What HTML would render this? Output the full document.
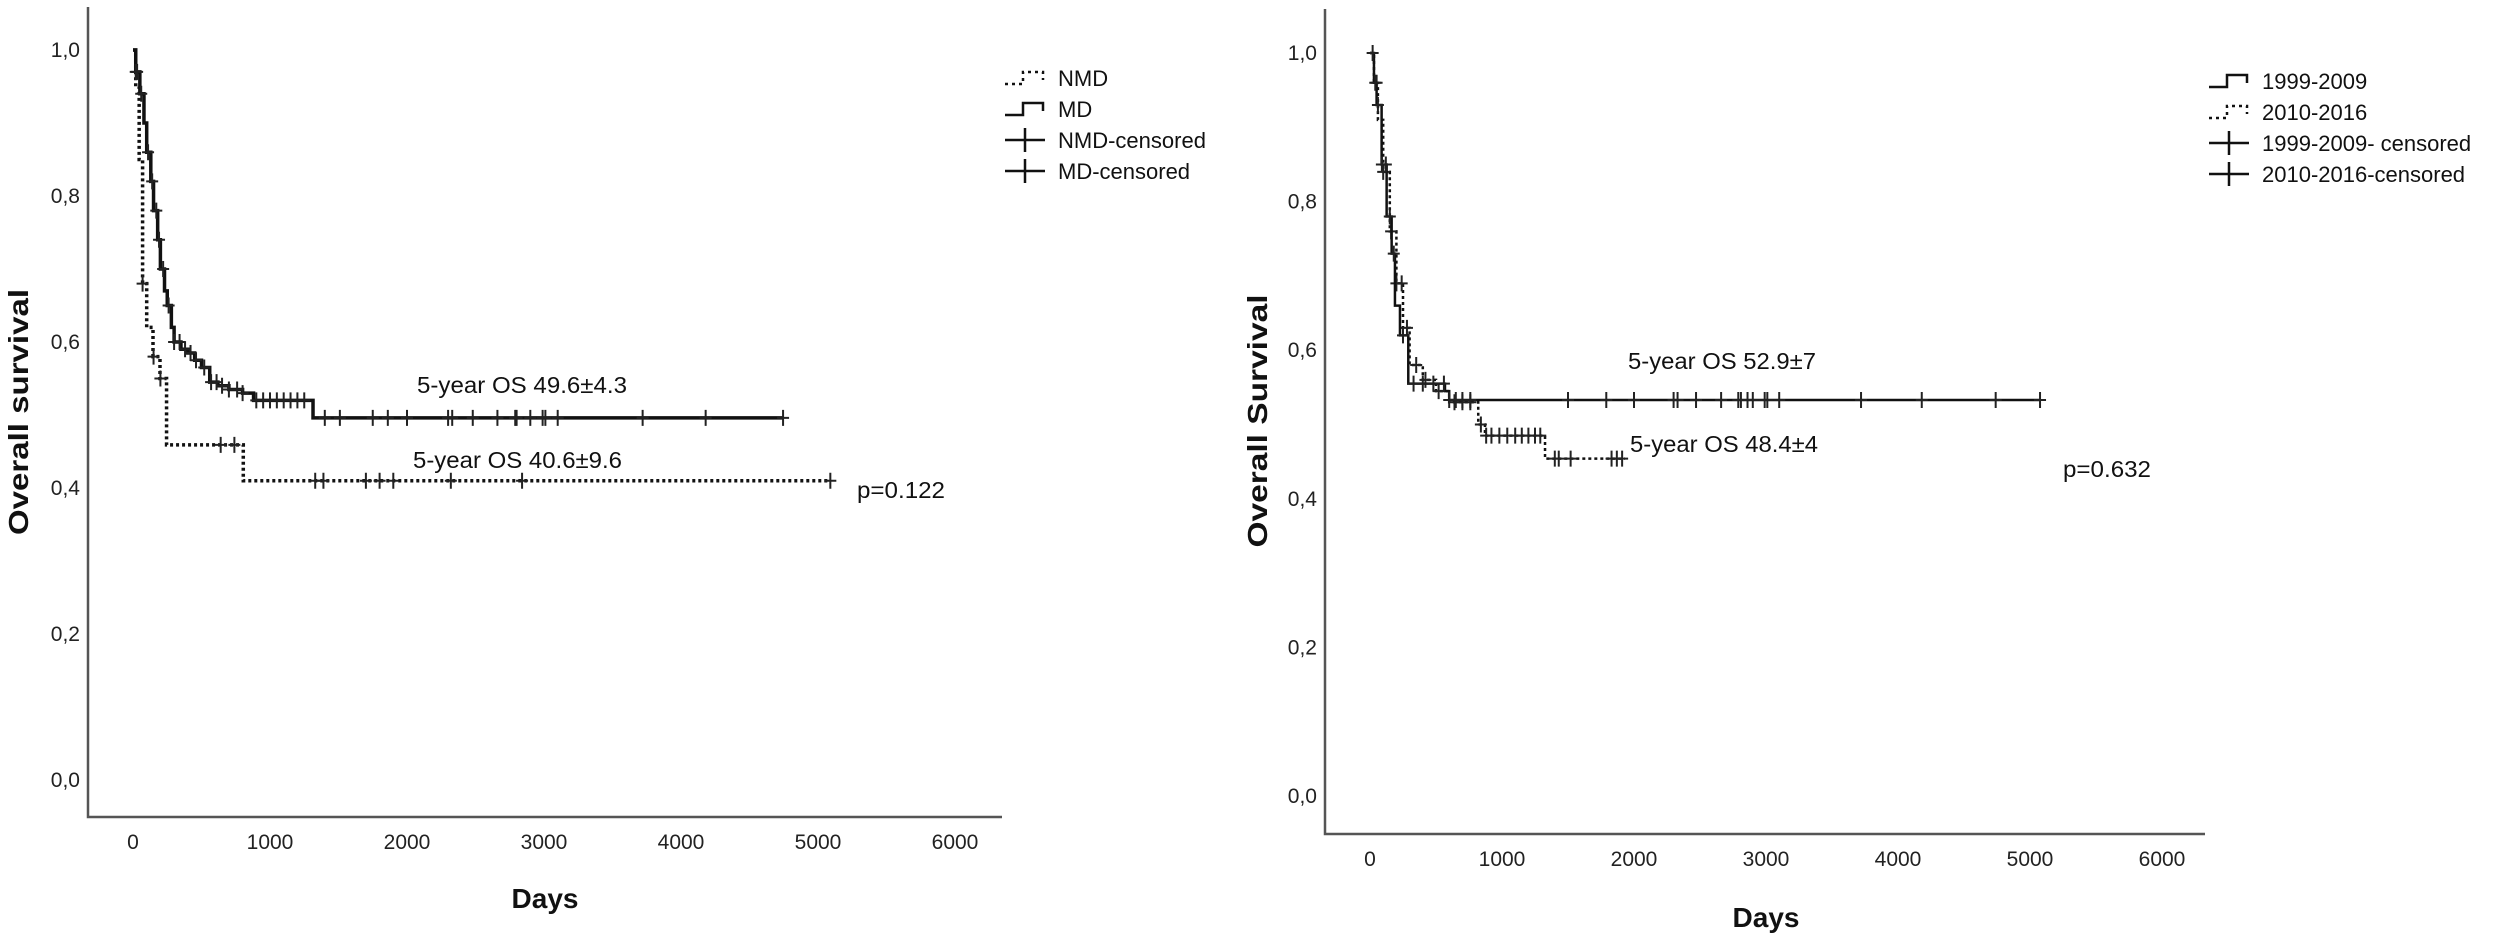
<!DOCTYPE html>
<html><head><meta charset="utf-8"><style>
html,body{margin:0;padding:0;background:#fff;}
svg{display:block;font-family:"Liberation Sans",sans-serif;}
</style></head><body>
<svg id="fig" width="2508" height="938" viewBox="0 0 2508 938" xmlns="http://www.w3.org/2000/svg"></svg>
<script>
// ---------- DATA ----------
const xTicks = [0,1000,2000,3000,4000,5000,6000];
const yTicks = [0,0.2,0.4,0.6,0.8,1.0];
const yTickLabels = ["0,0","0,2","0,4","0,6","0,8","1,0"];
// Left chart: MD (solid) step points [day, survival]
const mdTimes = [0,20,50,80,100,130,150,180,200,230,250,280,300,350,400,450,500,560,620,700,800,880,1000,1314,4750];
const mdSurv  = [1.0,0.97,0.94,0.90,0.86,0.82,0.78,0.74,0.70,0.67,0.65,0.62,0.60,0.59,0.585,0.575,0.565,0.545,0.54,0.535,0.53,0.52,0.52,0.496,0.496];
const mdCensor = [20,30,60,110,140,170,190,220,260,300,340,380,420,460,520,570,610,650,700,760,800,900,950,1000,1050,1100,1150,1200,1250,1400,1510,1750,1860,2000,2300,2330,2480,2660,2790,2800,2900,2990,3010,3100,3720,4180,4745];
// Left chart: NMD (dotted)
const nmdTimes = [0,20,45,70,100,146,197,245,805,5090];
const nmdSurv  = [1.0,0.95,0.85,0.68,0.62,0.58,0.55,0.459,0.41,0.41];
const nmdCensor = [70,150,200,640,740,1330,1390,1700,1800,1900,2320,2840,5090];
// Right chart: 1999-2009 (solid)
const aTimes = [0,30,50,88,126,164,189,227,290,568,600,5076];
const aSurv  = [1.0,0.96,0.93,0.85,0.78,0.73,0.66,0.62,0.555,0.545,0.533,0.533];
const aCensor = [20,40,60,90,120,150,180,250,330,400,480,560,600,650,700,760,1500,1790,2000,2300,2330,2470,2660,2790,2810,2860,2900,2990,3010,3100,3720,4180,4740,5076];
// Right chart: 2010-2016 (dotted)
const bTimes = [0,30,60,100,150,200,250,300,400,500,600,820,871,1326,1932];
const bSurv  = [1.0,0.96,0.91,0.84,0.76,0.69,0.63,0.58,0.56,0.545,0.53,0.50,0.485,0.454,0.454];
const bCensor = [50,100,160,200,240,280,350,420,520,640,700,760,840,880,920,980,1040,1100,1150,1200,1250,1290,1400,1430,1520,1830,1870,1910];

// ---------- HELPERS ----------
const NS="http://www.w3.org/2000/svg";
const svg=document.getElementById('fig');
function mk(tag,attrs,parent){const e=document.createElementNS(NS,tag);for(const k in attrs)e.setAttribute(k,attrs[k]);(parent||svg).appendChild(e);return e;}
function survAt(times,surv,t){let s=surv[0];for(let i=0;i<times.length;i++){if(times[i]<=t)s=surv[i];}return s;}

function drawChart(cfg){
  const g=mk('g',{});
  
  
  const X=d=>cfg.x0+cfg.kx*d, Y=s=>cfg.y0-cfg.ky*s;
  // axes
  const ax=mk('path',{d:`M${cfg.axX},${cfg.axTop} V${cfg.axY} H${cfg.axRight}`,fill:'none',stroke:'#555','stroke-width':2.5},g);
  
  
  xTicks.forEach(v=>{
    const t=mk('text',{x:X(v),y:cfg.xLabY,'font-size':21,'text-anchor':'middle',fill:'#222'},g);
    t.textContent=String(v);
    
    
  });
  yTicks.forEach((v,i)=>{
    const t=mk('text',{x:cfg.yLabX,y:Y(v)+7,'font-size':21,'text-anchor':'end',fill:'#222'},g);
    t.textContent=yTickLabels[i];
    
    
  });
  const xt=mk('text',{x:cfg.daysX,y:cfg.daysY,'font-size':28,'font-weight':'bold','text-anchor':'middle',fill:'#111'},g);
  xt.textContent='Days';
  
  
  const yt=mk('text',{x:0,y:0,'font-size':28,'font-weight':'bold','text-anchor':'middle',fill:'#111',transform:`translate(${cfg.ytX},${cfg.ytY}) rotate(-90)`,textLength:cfg.ytLen,lengthAdjust:'spacingAndGlyphs'},g);
  yt.textContent=cfg.yTitle;
  
  
  // series
  cfg.series.forEach(s=>{
    let d=`M${X(s.times[0])},${Y(s.surv[0])}`;
    for(let i=1;i<s.times.length;i++){d+=` H${X(s.times[i])} V${Y(s.surv[i])}`;}
    const p=mk('path',{d:d,fill:'none',stroke:'#111','stroke-width':s.w,'stroke-dasharray':s.dash||'none'},g);
    
    
    s.censor.forEach(t=>{
      const cx=X(t), cy=Y(survAt(s.times,s.surv,t));
      const c=mk('path',{d:`M${cx-6},${cy} H${cx+6} M${cx},${cy-8} V${cy+8}`,stroke:'#222','stroke-width':2},g);
      
      
    });
  });
  // annotations
  cfg.notes.forEach(n=>{
    const t=mk('text',{x:n.x,y:n.y,'font-size':23,fill:'#111',textLength:n.len,lengthAdjust:'spacingAndGlyphs'},g);
    t.textContent=n.text;
    
    
  });
  // legend
  cfg.legend.forEach((l,i)=>{
    const y=cfg.legY+i*31, lx=cfg.legX;
    const lg=mk('g',{},g);
    
    
    if(l.kind==='step'||l.kind==='dstep'){
      mk('path',{d:`M${lx},${y+6} H${lx+18} V${y-6} H${lx+38} V${y+2}`,fill:'none',stroke:'#111','stroke-width':2.5,'stroke-dasharray':l.kind==='dstep'?'3,4':'none'},lg);
    } else {
      mk('path',{d:`M${lx},${y} H${lx+40} M${lx+20},${y-12} V${y+12}`,stroke:'#111','stroke-width':2.5},lg);
    }
    const t=mk('text',{x:cfg.legTX,y:y+8,'font-size':22,fill:'#111'},lg);
    t.textContent=l.text;
  });
}

drawChart({name:'chart-left',x0:133,kx:0.137,y0:780,ky:730,axX:88,axTop:7,axY:817,axRight:1002,
  xLabY:849,yLabX:80,daysX:545,daysY:908,ytX:28,ytY:412,ytLen:246,yTitle:'Overall survival',
  series:[{name:'nmd',times:nmdTimes,surv:nmdSurv,censor:nmdCensor,w:3.5,dash:'3,3'},
          {name:'md',times:mdTimes,surv:mdSurv,censor:mdCensor,w:3.5}],
  notes:[{x:417,y:393,len:210,text:'5-year OS 49.6±4.3',name:'md-5yr-os-label'},
         {x:413,y:468,len:209,text:'5-year OS 40.6±9.6',name:'nmd-5yr-os-label'},
         {x:857,y:498,len:88,text:'p=0.122',name:'p-value-label'}],
  legX:1005,legTX:1058,legY:78,
  legend:[{kind:'dstep',text:'NMD'},{kind:'step',text:'MD'},{kind:'cross',text:'NMD-censored'},{kind:'cross',text:'MD-censored'}]
});
drawChart({name:'chart-right',x0:1370,kx:0.132,y0:796,ky:743,axX:1325,axTop:9,axY:834,axRight:2205,
  xLabY:866,yLabX:1317,daysX:1766,daysY:927,ytX:1267,ytY:421,ytLen:253,yTitle:'Overall Survival',
  series:[{name:'period-2010-2016',times:bTimes,surv:bSurv,censor:bCensor,w:2.5,dash:'3,3'},
          {name:'period-1999-2009',times:aTimes,surv:aSurv,censor:aCensor,w:2.5}],
  notes:[{x:1628,y:369,len:188,text:'5-year OS 52.9±7',name:'period-1999-2009-5yr-os-label'},
         {x:1630,y:452,len:188,text:'5-year OS 48.4±4',name:'period-2010-2016-5yr-os-label'},
         {x:2063,y:477,len:88,text:'p=0.632',name:'p-value-label'}],
  legX:2209,legTX:2262,legY:81,
  legend:[{kind:'step',text:'1999-2009'},{kind:'dstep',text:'2010-2016'},{kind:'cross',text:'1999-2009- censored'},{kind:'cross',text:'2010-2016-censored'}]
});
</script>
</body></html>
